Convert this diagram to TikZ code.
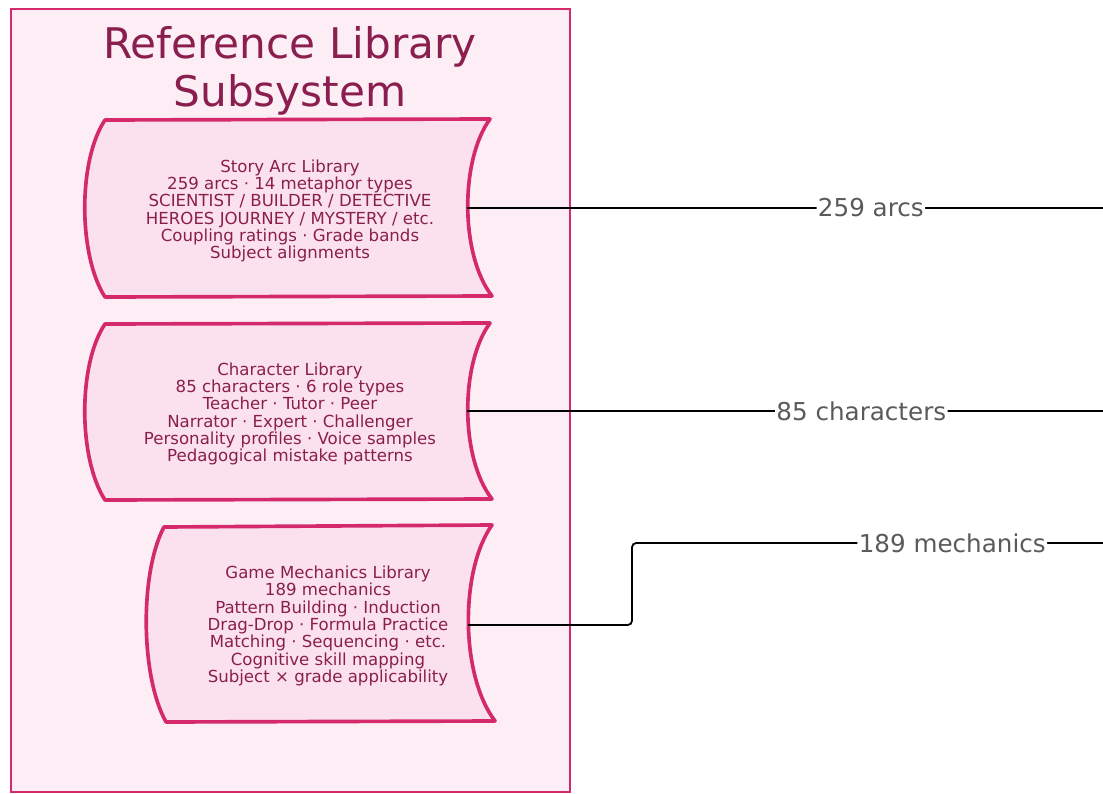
\documentclass[tikz,border=0pt]{standalone}
\usepackage{fontspec}
\setmainfont{DejaVu Sans}
\definecolor{libpink}{HTML}{D42A6C}
\definecolor{libfill}{HTML}{FDEEF5}
\definecolor{storefill}{HTML}{FBE1EE}
\definecolor{libtext}{HTML}{8A1E4E}
\definecolor{lbltext}{HTML}{5A5A5A}

\begin{document}
\begin{tikzpicture}
  [x=0.025cm,y=-0.025cm,
   store/.style={draw=libpink,line width=2.6pt,fill=storefill,line join=round},
   storetext/.style={align=center,text=libtext,font=\fontsize{11.8}{12.3}\selectfont},
   link/.style={draw=black,line width=1.3pt,rounded corners=3pt},
   lbl/.style={fill=white,text=lbltext,inner sep=1pt,font=\fontsize{17.5}{19}\selectfont}]
  \useasboundingbox (0,0) rectangle (1103,794);
  % container
  \draw[draw=libpink,line width=1.6pt,fill=libfill] (11,9) rectangle (570,792);
  \node[text=libtext,align=center,font=\fontsize{30}{34}\selectfont] (title) at (290,71) {Reference Library\\Subsystem};
  % stores
  \draw[store] (105,120) -- (490,119) .. controls (460,160) and (460,255) .. (492,296)
    -- (105,297) .. controls (78,255) and (78,160) .. (105,120) -- cycle;
  \draw[store] (105,324) -- (490,323) .. controls (460,364) and (460,458) .. (492,499)
    -- (105,500) .. controls (78,458) and (78,364) .. (105,324) -- cycle;
  \draw[store] (164,527) -- (492,525) .. controls (460,570) and (460,675) .. (495,721)
    -- (166,722) .. controls (140,675) and (140,572) .. (164,527) -- cycle;
  \node[storetext] (arcs) at (290,211) {Story Arc Library\\259 arcs · 14 metaphor types\\SCIENTIST / BUILDER / DETECTIVE\\HEROES JOURNEY / MYSTERY / etc.\\Coupling ratings · Grade bands\\Subject alignments};
  \node[storetext] (chars) at (290,414) {Character Library\\85 characters · 6 role types\\Teacher · Tutor · Peer\\Narrator · Expert · Challenger\\Personality profiles · Voice samples\\Pedagogical mistake patterns};
  \node[storetext] (mechs) at (328,626) {Game Mechanics Library\\189 mechanics\\Pattern Building · Induction\\Drag-Drop · Formula Practice\\Matching · Sequencing · etc.\\Cognitive skill mapping\\Subject × grade applicability};
  \coordinate (arcsR) at (467,208);
  \coordinate (charsR) at (467,411);
  \coordinate (mechsR) at (468,625);
  \coordinate (arcsE) at (1103,208);
  \coordinate (charsE) at (1103,411);
  \coordinate (mechsE) at (1103,543);
  % links
  \foreach \from/\to/\txt/\p in {arcsR/arcsE/259 arcs/.635,charsR/charsE/85 characters/.62}
    \draw[link] (\from) -- node[lbl,pos=\p] (l-\from) {\txt} (\to);
  \draw[link] (mechsR) -- ++(164,0) |- node[lbl,pos=.84] (l-mechsR) {189 mechanics} (mechsE);
\end{tikzpicture}
\end{document}
